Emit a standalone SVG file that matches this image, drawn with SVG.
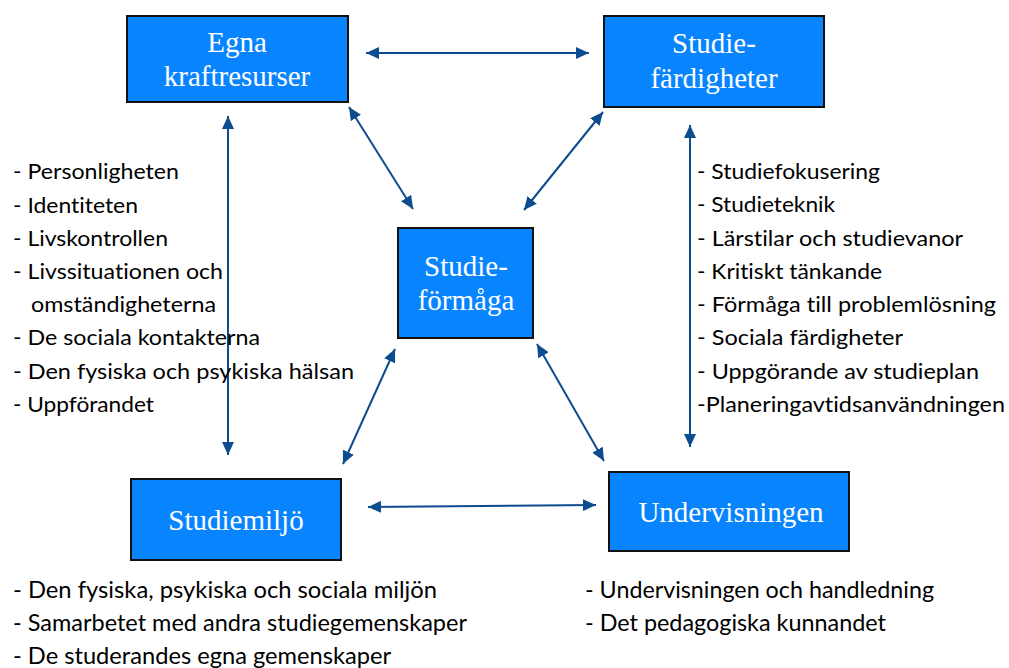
<svg xmlns="http://www.w3.org/2000/svg" width="1009" height="668" viewBox="0 0 1009 668">
<defs>
<marker id="ah" markerUnits="userSpaceOnUse" markerWidth="14" markerHeight="12" refX="13" refY="6" orient="auto-start-reverse" viewBox="0 0 14 12">
<path d="M0,0 L13,6 L0,12 Z" fill="#0D4C8F"/>
</marker>
</defs>
<style>
.box{fill:#0984FF;stroke:#111;stroke-width:2}
.bt{font-family:"Liberation Serif","Times New Roman",serif;font-size:29px;fill:#fff;text-anchor:middle}
.li{font-family:Lato,"Open Sans",sans-serif;font-size:21px;fill:#000;font-variant-ligatures:none}
.lb{font-family:Lato,"Open Sans",sans-serif;font-size:24px;fill:#000;font-variant-ligatures:none}
.con line{stroke:#0D4C8F;stroke-width:2;marker-start:url(#ah);marker-end:url(#ah)}
</style>
<rect width="1009" height="668" fill="#fff"/>

<g id="connectors" class="con">
<line x1="366" y1="53" x2="589" y2="53"/>
<line x1="228" y1="116" x2="228" y2="455"/>
<line x1="690" y1="125" x2="690" y2="447"/>
<line x1="349" y1="107" x2="413" y2="209"/>
<line x1="603" y1="112" x2="524" y2="210"/>
<line x1="395" y1="349" x2="343" y2="464"/>
<line x1="537" y1="344" x2="604" y2="461"/>
<line x1="368" y1="507" x2="596" y2="505"/>
</g>

<g id="egna">
<rect class="box" x="127" y="16" width="221" height="86"/>
<text class="bt" x="237" y="52">Egna</text>
<text class="bt" x="237" y="86">kraftresurser</text>
</g>

<g id="studiefardigheter">
<rect class="box" x="604" y="16" width="220" height="91"/>
<text class="bt" x="714" y="53">Studie-</text>
<text class="bt" x="714" y="88">färdigheter</text>
</g>

<g id="studieformaga">
<rect class="box" x="398" y="228" width="135" height="110"/>
<text class="bt" x="466" y="276">Studie-</text>
<text class="bt" x="466" y="310">förmåga</text>
</g>

<g id="studiemiljo">
<rect class="box" x="131" y="479" width="210" height="81"/>
<text class="bt" x="236" y="530">Studiemiljö</text>
</g>

<g id="undervisningen">
<rect class="box" x="609" y="472" width="240" height="79"/>
<text class="bt" x="731" y="522">Undervisningen</text>
</g>

<g id="list-left">
<text class="li" x="13" y="179" textLength="166" lengthAdjust="spacingAndGlyphs">- Personligheten</text>
<text class="li" x="13" y="213" textLength="125" lengthAdjust="spacingAndGlyphs">- Identiteten</text>
<text class="li" x="13" y="246" textLength="155" lengthAdjust="spacingAndGlyphs">- Livskontrollen</text>
<text class="li" x="13" y="279" textLength="210" lengthAdjust="spacingAndGlyphs">- Livssituationen och</text>
<text class="li" x="31" y="312" textLength="185" lengthAdjust="spacingAndGlyphs">omständigheterna</text>
<text class="li" x="13" y="345" textLength="247" lengthAdjust="spacingAndGlyphs">- De sociala kontakterna</text>
<text class="li" x="13" y="379" textLength="341" lengthAdjust="spacingAndGlyphs">- Den fysiska och psykiska hälsan</text>
<text class="li" x="13" y="412" textLength="141" lengthAdjust="spacingAndGlyphs">- Uppförandet</text>
</g>

<g id="list-right">
<text class="li" x="697" y="179" textLength="183" lengthAdjust="spacingAndGlyphs">- Studiefokusering</text>
<text class="li" x="697" y="212" textLength="138" lengthAdjust="spacingAndGlyphs">- Studieteknik</text>
<text class="li" x="697" y="246" textLength="266" lengthAdjust="spacingAndGlyphs">- Lärstilar och studievanor</text>
<text class="li" x="697" y="279" textLength="185" lengthAdjust="spacingAndGlyphs">- Kritiskt tänkande</text>
<text class="li" x="697" y="312" textLength="299" lengthAdjust="spacingAndGlyphs">- Förmåga till problemlösning</text>
<text class="li" x="697" y="345" textLength="206" lengthAdjust="spacingAndGlyphs">- Sociala färdigheter</text>
<text class="li" x="697" y="379" textLength="282" lengthAdjust="spacingAndGlyphs">- Uppgörande av studieplan</text>
<text class="li" x="697" y="412" textLength="308" lengthAdjust="spacingAndGlyphs">-Planeringavtidsanvändningen</text>
</g>

<g id="list-bottom-left">
<text class="lb" x="13" y="598" textLength="424" lengthAdjust="spacingAndGlyphs">- Den fysiska, psykiska och sociala miljön</text>
<text class="lb" x="13" y="631" textLength="454" lengthAdjust="spacingAndGlyphs">- Samarbetet med andra studiegemenskaper</text>
<text class="lb" x="13" y="664" textLength="378" lengthAdjust="spacingAndGlyphs">- De studerandes egna gemenskaper</text>
</g>

<g id="list-bottom-right">
<text class="lb" x="585" y="598" textLength="349" lengthAdjust="spacingAndGlyphs">- Undervisningen och handledning</text>
<text class="lb" x="585" y="631" textLength="301" lengthAdjust="spacingAndGlyphs">- Det pedagogiska kunnandet</text>
</g>
</svg>
